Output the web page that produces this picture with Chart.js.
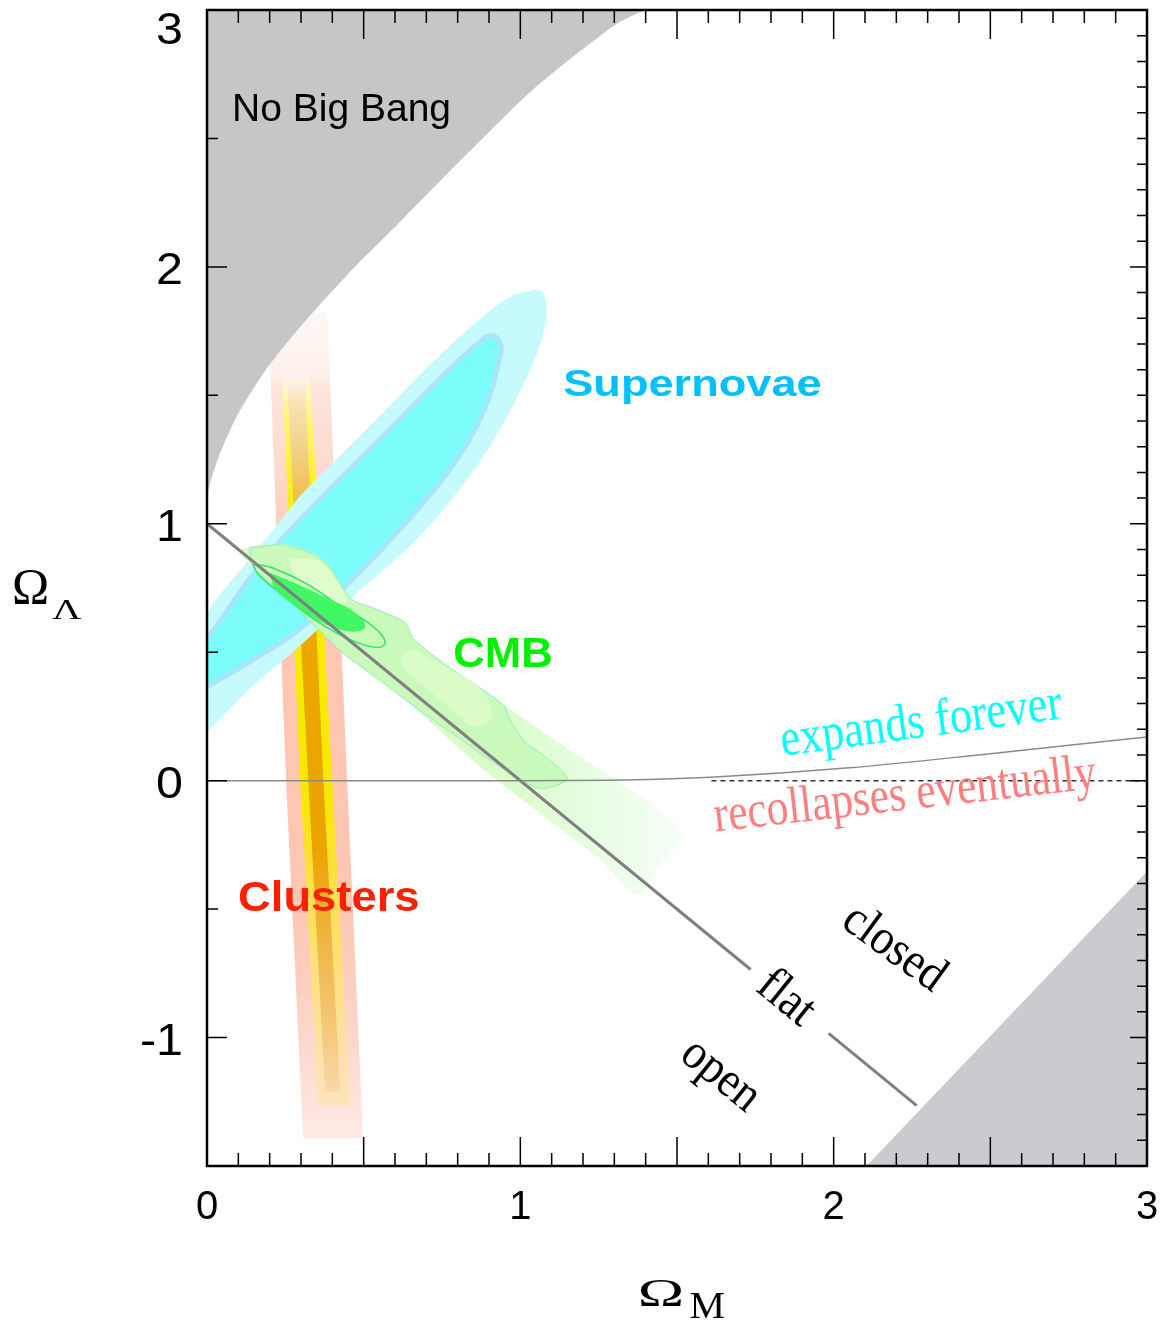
<!DOCTYPE html>
<html>
<head>
<meta charset="utf-8">
<script src="https://cdn.jsdelivr.net/npm/chart.js@4.4.1/dist/chart.umd.min.js"></script>
<style>
  html, body { margin: 0; padding: 0; background: #fff; }
  canvas { display: block; }
</style>
</head>
<body>
<canvas id="chart" width="1160" height="1322"></canvas>
<script>
// axes
const xRange = [0, 3];
const yRange = [-1.5, 3];
const xTickLabels = [0, 1, 2, 3];
const yTickLabels = [-1, 0, 1, 2, 3];

// excluded regions (Omega_M, Omega_Lambda)
const noBigBang = [[-0.2, 3.3], [1.55, 3.3], [1.52, 3.05], [1.40, 3.0], [1.30, 2.94], [1.04, 2.69], [0.83, 2.44],
  [0.62, 2.18], [0.46, 1.985], [0.30, 1.77], [0.20, 1.62], [0.15, 1.53], [0.10, 1.43], [0.05, 1.30], [0.02, 1.20],
  [0, 1.11], [-0.03, 0.95], [-0.2, 0.9]];
const lowerCorner = [[2.05, -1.57], [3.05, -0.29], [3.05, -1.6]];

// supernovae contours
const snOuter = [[0.297, 1.109], [0.511, 1.370], [0.722, 1.630], [0.882, 1.809], [0.968, 1.883], [1.016, 1.903], [1.064, 1.907],
  [1.083, 1.856], [1.077, 1.759], [1.042, 1.630], [0.936, 1.370], [0.831, 1.175], [0.671, 0.942], [0.457, 0.708],
  [0.297, 0.525], [0.137, 0.358], [0.010, 0.202], [-0.054, 0.144], [-0.093, 0.241], [-0.061, 0.475], [0.003, 0.658],
  [0.105, 0.817], [0.201, 0.961]];
const snInner = [[0.403, 1.148], [0.617, 1.409], [0.776, 1.603], [0.863, 1.700], [0.904, 1.732], [0.933, 1.712], [0.936, 1.658],
  [0.882, 1.436], [0.776, 1.214], [0.617, 0.981], [0.435, 0.747], [0.297, 0.591], [0.137, 0.463], [0.000, 0.366],
  [-0.070, 0.319], [-0.099, 0.416], [0.000, 0.553], [0.192, 0.875]];

// CMB contours
const cmbOuter = [[0.105, 0.895], [0.137, 0.911], [0.240, 0.922], [0.345, 0.883], [0.393, 0.833], [0.431, 0.755], [0.463, 0.700],
  [0.537, 0.665], [0.633, 0.615], [0.658, 0.553], [0.767, 0.444], [0.946, 0.296], [1.128, 0.144], [1.288, 0.016],
  [1.521, -0.206], [1.447, -0.327], [1.374, -0.447], [1.256, -0.311], [1.064, -0.128], [0.872, 0.054], [0.722, 0.218],
  [0.553, 0.405], [0.425, 0.521], [0.313, 0.658], [0.201, 0.786], [0.137, 0.848], [0.112, 0.875]];
const cmbMid = [[0.137, 0.907], [0.240, 0.918], [0.345, 0.879], [0.393, 0.829], [0.431, 0.755], [0.463, 0.704], [0.537, 0.669],
  [0.633, 0.615], [0.658, 0.553], [0.767, 0.447], [0.946, 0.296], [0.962, 0.249], [1.010, 0.156], [1.086, 0.086],
  [1.150, 0.008], [1.064, -0.031], [0.936, 0.054], [0.808, 0.163], [0.681, 0.272], [0.553, 0.389], [0.425, 0.506],
  [0.313, 0.642], [0.201, 0.774], [0.144, 0.840]];
const cmbPatchA = [[0.265, 0.864], [0.355, 0.856], [0.409, 0.786], [0.447, 0.700], [0.409, 0.693], [0.329, 0.747], [0.272, 0.817]];
const cmbPatchB = [[0.658, 0.514], [0.760, 0.444], [0.872, 0.358], [0.911, 0.249], [0.856, 0.210], [0.760, 0.300], [0.665, 0.397], [0.617, 0.467]];
const cmbInner = [[0.147, 0.844], [0.208, 0.829], [0.313, 0.770], [0.419, 0.685], [0.527, 0.603], [0.569, 0.541], [0.546, 0.518],
  [0.450, 0.553], [0.345, 0.626], [0.240, 0.724], [0.163, 0.805]];
const cmbCore = [[0.201, 0.809], [0.297, 0.760], [0.393, 0.705], [0.473, 0.654], [0.505, 0.599], [0.463, 0.580], [0.377, 0.611],
  [0.281, 0.681], [0.217, 0.747]];

// cluster band
const clusterPink = [[0.195, 1.825], [0.383, 1.825], [0.447, 0.008], [0.498, -1.393], [0.307, -1.393], [0.252, 0.008]];
const clusterYellow = [[0.240, 1.576], [0.329, 1.576], [0.399, 0.008], [0.457, -1.265], [0.355, -1.265], [0.297, 0.008]];
const clusterCore = [[0.256, 1.545], [0.313, 1.545], [0.371, 0.008], [0.425, -1.21], [0.377, -1.21], [0.323, 0.008]];

// lines
const flatLine = [[0, 1], [1.735, -0.735], [1.86, null], [1.984, -0.984], [2.265, -1.265]];
const expandLine = [[0, 0], [1.0, 0], [1.29, 0.002], [1.44, 0.006], [1.62, 0.014], [2.05, 0.05], [2.5, 0.105], [3, 0.17]];
const zeroDashed = [[1.61, 0], [3, 0]];

const labels = [
  {text: 'No Big Bang', x: 0.08, y: 2.568, font: '39px "Liberation Sans"', color: '#000'},
  {text: 'Supernovae', x: 1.137, y: 1.498, font: 'bold 37px "Liberation Sans"', color: '#00c0ff', sx: 1.22},
  {text: 'CMB', x: 0.786, y: 0.444, font: 'bold 42px "Liberation Sans"', color: '#00f000', sx: 1.04},
  {text: 'Clusters', x: 0.099, y: -0.506, font: 'bold 42px "Liberation Sans"', color: '#ff2000', sx: 1.08},
  {text: 'expands forever', x: 1.837, y: 0.097, font: '52px "Liberation Serif"', color: '#00ffff', sx: 0.85, angle: -7.6},
  {text: 'recollapses eventually', x: 1.623, y: -0.198, font: '52px "Liberation Serif"', color: '#ff7f7f', sx: 0.835, angle: -6.5},
  {text: 'closed', x: 2.192, y: -0.654, font: '50px "Liberation Serif"', color: '#000', sx: 0.9, angle: 36, align: 'center', base: 'middle'},
  {text: 'flat', x: 1.847, y: -0.848, font: '50px "Liberation Serif"', color: '#000', sx: 0.9, angle: 39, align: 'center', base: 'middle'},
  {text: 'open', x: 1.639, y: -1.148, font: '50px "Liberation Serif"', color: '#000', sx: 0.9, angle: 39, align: 'center', base: 'middle'}
];

const toXY = a => a.map(p => ({x: p[0], y: p[1]}));
const closed = a => toXY(a.concat([a[0]]));

function vGrad(chart, yTop, yBot, stops) {
  if (!chart.chartArea) return stops[0][1];
  const g = chart.ctx.createLinearGradient(0, chart.scales.y.getPixelForValue(yTop), 0, chart.scales.y.getPixelForValue(yBot));
  stops.forEach(s => g.addColorStop(s[0], s[1]));
  return g;
}
function hGrad(chart, x0, x1, stops) {
  if (!chart.chartArea) return stops[0][1];
  const g = chart.ctx.createLinearGradient(chart.scales.x.getPixelForValue(x0), 0, chart.scales.x.getPixelForValue(x1), 0);
  stops.forEach(s => g.addColorStop(s[0], s[1]));
  return g;
}

let layer = 100;
function shape(points, color, extra) {
  return Object.assign({
    data: closed(points), backgroundColor: color, borderColor: 'transparent', borderWidth: 0,
    fill: 'shape', tension: 0, pointRadius: 0, order: layer--
  }, extra || {});
}
function line(points, color, width, extra) {
  return Object.assign({
    data: toXY(points), borderColor: color, borderWidth: width, fill: false, tension: 0,
    pointRadius: 0, order: layer--
  }, extra || {});
}

const datasets = [
  shape(clusterPink, c => vGrad(c.chart, 1.825, -1.393, [[0, '#fef7f4'], [0.075, '#fdf0ea'], [0.09, '#fde6dc'], [0.17, '#fddcd0'],
    [0.25, '#fcd0c0'], [0.35, '#fcc6b2'], [0.71, '#fcc6b2'], [0.81, '#fccfbf'], [0.89, '#fcd8cc'], [0.96, '#fde4dc'], [1, '#fdeae6']])),
  shape(clusterYellow, c => vGrad(c.chart, 1.576, -1.265, [[0, '#fff0f0'], [0.02, '#fff8c0'], [0.065, '#fff470'], [0.15, '#fcf020'],
    [0.24, '#f8ec00'], [0.58, '#f8e800'], [0.66, '#fce038'], [0.78, '#fde070'], [0.9, '#fde0a0'], [1, '#fde4bc']])),
  shape(clusterCore, c => vGrad(c.chart, 1.545, -1.21, [[0, '#fbeee0'], [0.025, '#f8e4b8'], [0.08, '#f4d490'], [0.14, '#f0c460'],
    [0.21, '#eeb430'], [0.31, '#eca800'], [0.66, '#eca400'], [0.73, '#eeac28'], [0.8, '#f0b848'], [0.87, '#f2c268'], [0.94, '#f6cc88'], [1, '#f8d8a8']])),
  shape(snOuter, '#c6fafc', {tension: 0.4}),
  shape(snInner, '#7dfcfc', {tension: 0.4, borderColor: '#a8e6fc', borderWidth: 5}),
  shape(cmbOuter, c => hGrad(c.chart, 0.95, 1.55, [[0, '#dafcca'], [0.3, '#e2fcd8'], [0.55, '#eafde6'], [0.8, '#f1fef0'], [1, '#f8fff8']]), {tension: 0.25}),
  shape(cmbMid, '#cafabb', {tension: 0.25, borderColor: '#90ecbc', borderWidth: 1}),
  shape(cmbPatchA, '#e0fcca', {tension: 0.35}),
  shape(cmbPatchB, '#dafcc6', {tension: 0.35}),
  shape(cmbInner, '#c8fab8', {tension: 0.4, borderColor: '#30e070', borderWidth: 1.5}),
  shape(cmbCore, '#40f662', {tension: 0.4}),
  shape(noBigBang, '#c6c6c6', {tension: 0.25}),
  shape(lowerCorner, '#cbcacf'),
  line(expandLine, '#8a8a8a', 1.5, {cubicInterpolationMode: 'monotone'}),
  line(zeroDashed, '#333', 1.5, {borderDash: [5, 4]}),
  line(flatLine, '#808080', 3, {spanGaps: false})
];

const framePlugin = {
  id: 'frame',
  afterDatasetsDraw(chart) {
    const c = chart.ctx, xs = chart.scales.x, ys = chart.scales.y;
    labels.forEach(l => {
      c.save();
      c.translate(xs.getPixelForValue(l.x), ys.getPixelForValue(l.y));
      c.rotate((l.angle || 0) * Math.PI / 180);
      c.scale(l.sx || 1, 1);
      c.font = l.font;
      c.fillStyle = l.color;
      c.textAlign = l.align || 'left';
      c.textBaseline = l.base || 'alphabetic';
      c.fillText(l.text, 0, 0);
      c.restore();
    });
  },
  afterDraw(chart) {
    const c = chart.ctx, xs = chart.scales.x, ys = chart.scales.y;
    const {left, right, top, bottom} = chart.chartArea;
    c.save();
    c.strokeStyle = '#000';
    c.lineWidth = 1.5;
    c.beginPath();
    for (let i = 0; i <= 30; i++) {
      const px = xs.getPixelForValue(i / 10);
      const len = i % 5 === 0 ? 29 : 13;
      c.moveTo(px, bottom); c.lineTo(px, bottom - len);
      c.moveTo(px, top); c.lineTo(px, top + len);
    }
    for (let i = -15; i <= 30; i++) {
      const py = ys.getPixelForValue(i / 10);
      if (i % 5 === 0) { c.moveTo(left, py); c.lineTo(left + (i % 10 === 0 ? 20 : 11), py); }
      c.moveTo(right, py); c.lineTo(right - (i % 10 === 0 ? 17 : 10), py);
    }
    c.stroke();
    c.lineWidth = 2.5;
    c.strokeRect(left, top, right - left, bottom - top);

    // tick labels
    c.fillStyle = '#000';
    c.font = '40px "Liberation Sans"';
    c.textAlign = 'center';
    c.textBaseline = 'middle';
    xTickLabels.forEach(v => c.fillText(String(v), xs.getPixelForValue(v), bottom + 42));
    c.font = '44px "Liberation Sans"';
    c.textAlign = 'right';
    yTickLabels.forEach(v => {
      const py = Math.max(ys.getPixelForValue(v) + 5, top + 22);
      c.save();
      c.translate(left - 24, py);
      c.scale(1.1, 1);
      c.fillText(String(v), 0, 0);
      c.restore();
    });

    // axis titles
    c.textAlign = 'left';
    c.textBaseline = 'alphabetic';
    c.font = '50px "Liberation Serif"';
    c.fillText('Ω', left - 195, ys.getPixelForValue(0.69));
    c.save();
    c.translate(left - 155, ys.getPixelForValue(0.63));
    c.scale(1.36, 1);
    c.font = '30px "Liberation Serif"';
    c.fillText('Λ', 0, 0);
    c.restore();
    c.save();
    c.translate(xs.getPixelForValue(1.375), bottom + 140);
    c.scale(1.6, 1);
    c.font = '39px "Liberation Serif"';
    c.fillText('Ω', 0, 0);
    c.restore();
    c.save();
    c.translate(xs.getPixelForValue(1.54), bottom + 152);
    c.scale(1.05, 1);
    c.font = '38px "Liberation Serif"';
    c.fillText('M', 0, 0);
    c.restore();
    c.restore();
  }
};

new Chart(document.getElementById('chart'), {
  type: 'line',
  data: { datasets },
  options: {
    responsive: false,
    animation: false,
    layout: { padding: { top: 10, right: 13, left: 0, bottom: 0 } },
    elements: { line: { capBezierPoints: false } },
    scales: {
      x: {
        type: 'linear', min: xRange[0], max: xRange[1],
        grid: { display: false }, border: { display: false }, ticks: { display: false },
        afterFit: s => { s.height = 156; }
      },
      y: {
        type: 'linear', min: yRange[0], max: yRange[1],
        grid: { display: false }, border: { display: false }, ticks: { display: false },
        afterFit: s => { s.width = 207; }
      }
    },
    plugins: { legend: { display: false }, tooltip: { enabled: false } }
  },
  plugins: [framePlugin]
});
</script>
</body>
</html>
